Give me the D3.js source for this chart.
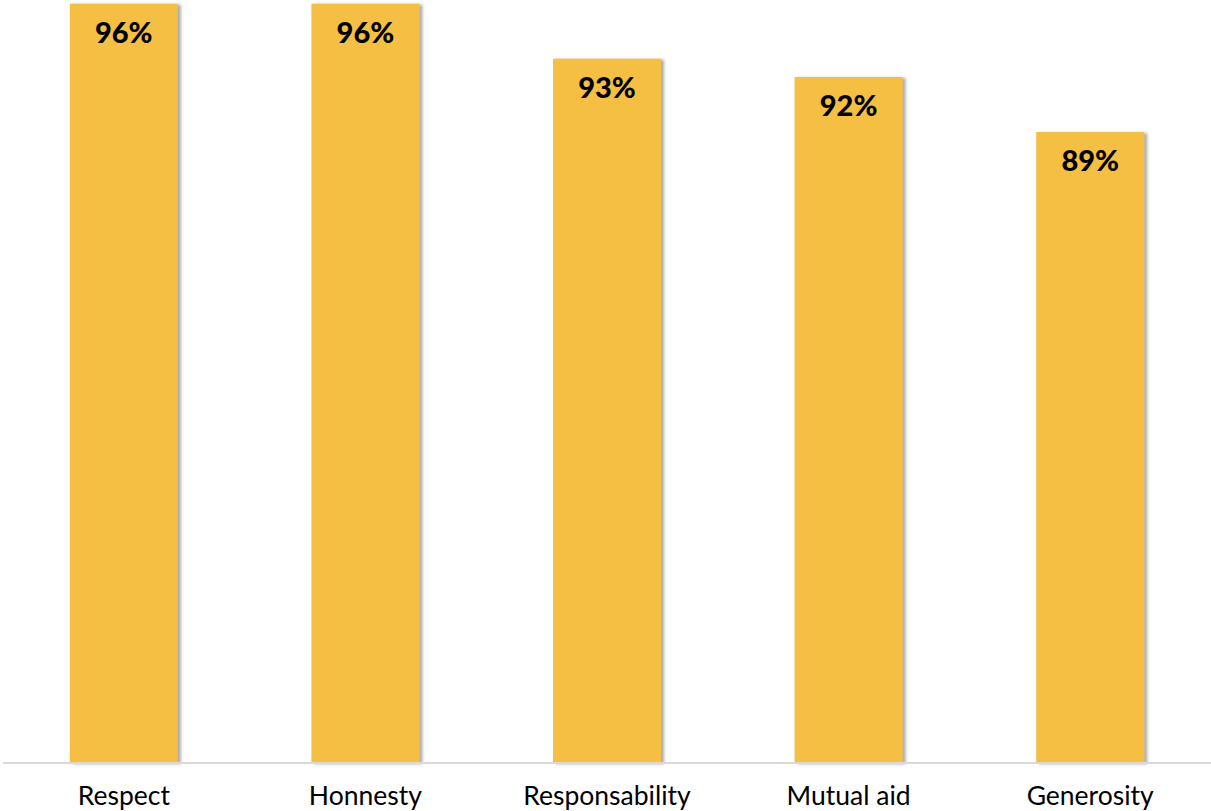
<!DOCTYPE html>
<html>
<head>
<meta charset="utf-8">
<script src="https://cdn.jsdelivr.net/npm/d3@7"></script>
<style>
  html, body { margin: 0; padding: 0; background: #fff; overflow: hidden; }
  #chart { width: 1211px; height: 811px; }
</style>
</head>
<body>
<div id="chart"></div>
<script>
// values
const categories = ["Respect", "Honnesty", "Responsability", "Mutual aid", "Generosity"];
const values = [96, 96, 93, 92, 89];
const yDomain = [54.6, 96.2];

const width = 1211, height = 811;
const baseY = 763;

const svg = d3.select("#chart").append("svg")
	.attr("width", width).attr("height", height);

const defs = svg.append("defs");
defs.append("filter").attr("id", "shadow")
	.attr("x", "-10%").attr("y", "-10%").attr("width", "130%").attr("height", "130%")
	.append("feDropShadow")
	.attr("dx", 3).attr("dy", 1).attr("stdDeviation", 1.5)
	.attr("flood-color", "#555").attr("flood-opacity", 0.5);

const x = d3.scaleBand()
	.domain(categories)
	.range([3, 1211])
	.paddingInner(0.553)
	.paddingOuter(0.2765);

const y = d3.scaleLinear()
	.domain(yDomain)
	.range([baseY, 0]);

// bars
svg.append("g").selectAll("rect")
	.data(categories)
	.join("rect")
	.attr("x", d => x(d))
	.attr("y", (d, i) => y(values[i]))
	.attr("width", x.bandwidth())
	.attr("height", (d, i) => baseY - y(values[i]))
	.attr("fill", "#F4BF42")
	.attr("filter", "url(#shadow)");

// axis line
svg.append("line")
	.attr("x1", 3).attr("x2", width)
	.attr("y1", baseY).attr("y2", baseY)
	.attr("stroke", "#d9d9d9").attr("stroke-width", 2);

// value labels
svg.append("g").selectAll("text")
	.data(categories)
	.join("text")
	.attr("x", d => x(d) + x.bandwidth() / 2)
	.attr("y", (d, i) => y(values[i]) + 39)
	.attr("text-anchor", "middle")
	.attr("font-family", "Lato, sans-serif")
	.attr("font-weight", 900)
	.attr("font-size", 29)
	.attr("fill", "#000")
	.text((d, i) => values[i] + "%");

// category labels
svg.append("g").selectAll("text")
	.data(categories)
	.join("text")
	.attr("x", d => x(d) + x.bandwidth() / 2)
	.attr("y", 805)
	.attr("text-anchor", "middle")
	.attr("font-family", "Lato, sans-serif")
	.attr("font-size", 26.5)
	.attr("fill", "#000")
	.text(d => d);
</script>
</body>
</html>
